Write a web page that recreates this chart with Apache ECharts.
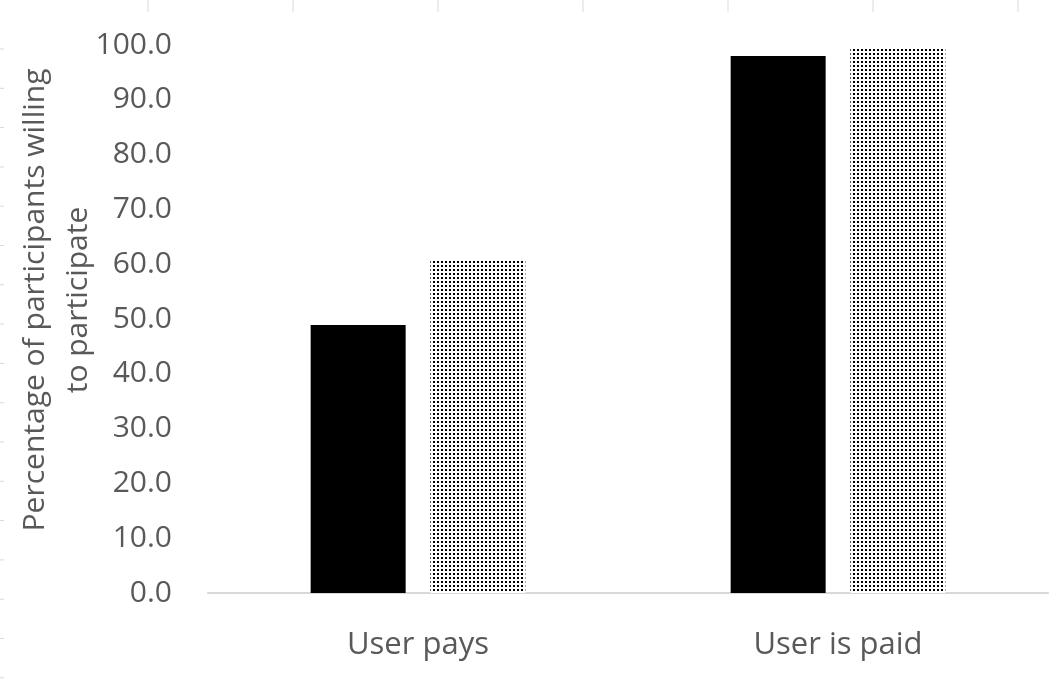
<!DOCTYPE html>
<html>
<head>
<meta charset="utf-8">
<script src="https://cdn.jsdelivr.net/npm/echarts@6/dist/echarts.min.js"></script>
<style>
  html, body { margin: 0; padding: 0; background: #fff; }
  #chart { width: 1060px; height: 684px; }
</style>
</head>
<body>
<div id="chart"></div>
<script>
// data
const categories = ['User pays', 'User is paid'];
const solidValues = [48.9, 98.0];
const dottedValues = [60.8, 99.6];
const yTicks = { min: 0, max: 100, interval: 10 };

// dotted fill like the excel pattern
function makeDots() {
    const c = document.createElement('canvas');
    c.width = 4;
    c.height = 4;
    const ctx = c.getContext('2d');
    ctx.fillStyle = '#fff';
    ctx.fillRect(0, 0, 4, 4);
    ctx.fillStyle = '#000';
    ctx.fillRect(1, 1, 2, 2);
    return c;
}

// faint ruler ticks on the top and left edge of the crop
const edgeTicks = [];
for (let x = 148; x < 1060; x += 145) {
    edgeTicks.push({ type: 'line', shape: { x1: x, y1: 0, x2: x, y2: 12 }, style: { stroke: '#d9d9d9', lineWidth: 1 }, silent: true });
}
for (let y = 49; y < 684; y += 39.3) {
    edgeTicks.push({ type: 'line', shape: { x1: 0, y1: y, x2: 4, y2: y }, style: { stroke: '#d9d9d9', lineWidth: 1 }, silent: true });
}

const textColor = '#595959';
const fontFamily = '"Open Sans", "Noto Sans", sans-serif';

const option = {
    backgroundColor: '#fff',
    animation: false,
    textStyle: { fontFamily: fontFamily },
    grid: { left: 208, right: 12, top: 45, bottom: 91, containLabel: false, outerBoundsMode: 'none' },
    xAxis: {
        type: 'category',
        data: categories,
        axisLine: { lineStyle: { color: '#d9d9d9', width: 2 } },
        axisTick: { show: false },
        axisLabel: { color: textColor, fontSize: 31, margin: 37, fontFamily: fontFamily }
    },
    yAxis: {
        type: 'value',
        min: yTicks.min,
        max: yTicks.max,
        interval: yTicks.interval,
        name: 'Percentage of participants willing\nto participate',
        nameLocation: 'middle',
        nameRotate: 90,
        nameGap: 108,
        nameMoveOverlap: false,
        nameTextStyle: {
            color: textColor,
            fontSize: 30,
            lineHeight: 43,
            padding: [0, 0, 0, 38],
            fontFamily: fontFamily
        },
        axisLine: { show: false },
        axisTick: { show: false },
        splitLine: { show: false },
        axisLabel: {
            color: textColor,
            fontSize: 30,
            margin: 36,
            fontFamily: fontFamily,
            formatter: v => v.toFixed(1)
        }
    },
    series: [
        {
            type: 'bar',
            data: solidValues,
            barWidth: 95,
            barGap: '26%',
            itemStyle: { color: '#000' }
        },
        {
            type: 'bar',
            data: dottedValues,
            barWidth: 95,
            itemStyle: { color: { image: makeDots(), repeat: 'repeat' } }
        }
    ],
    graphic: edgeTicks
};

const chart = echarts.init(document.getElementById('chart'));
chart.setOption(option);
</script>
</body>
</html>
